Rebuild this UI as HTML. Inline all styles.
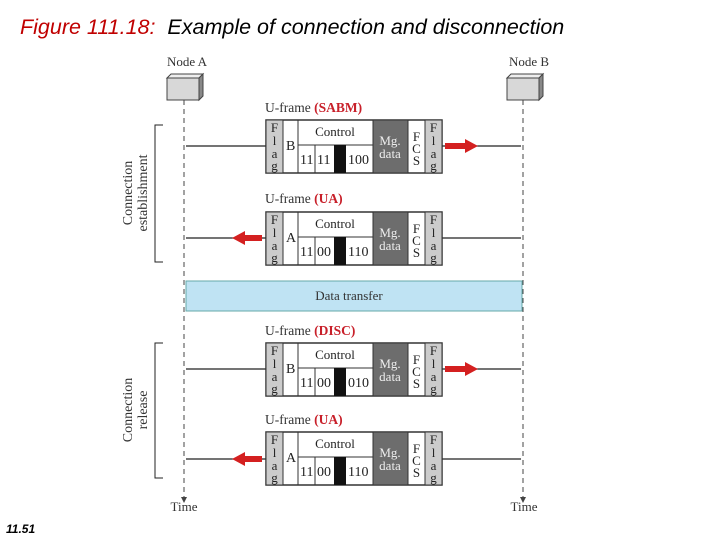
<!DOCTYPE html>
<html><head><style>
body{margin:0;width:720px;height:540px;background:#fff;position:relative;overflow:hidden;font-family:"Liberation Serif",serif;}
.a{position:absolute;}
.t{font-family:"Liberation Sans",sans-serif;font-style:italic;}
</style></head><body>
<div class="a t" style="left:20px;top:15px;font-size:21.5px;color:#000;white-space:nowrap;"><span style="color:#c00000">Figure 111.18:</span>&nbsp; Example of connection and disconnection</div>
<div class="a t" style="left:6px;top:522px;font-size:12px;font-weight:bold;">11.51</div>
<svg class="a" style="left:0;top:0" width="720" height="540" font-family="Liberation Serif, serif">
<defs>
<g id="fr">
  <rect x="266" y="0" width="176" height="53" fill="#fff" stroke="#333" stroke-width="1.5"/>
  <rect x="266" y="0" width="17" height="53" fill="#ccc" stroke="#333"/>
  <rect x="425" y="0" width="17" height="53" fill="#ccc" stroke="#333"/>
  <rect x="373" y="0" width="35" height="53" fill="#6d6d6d" stroke="#333"/>
  <line x1="283" y1="0" x2="283" y2="53" stroke="#333"/>
  <line x1="298" y1="0" x2="298" y2="53" stroke="#333"/>
  <line x1="298" y1="25" x2="373" y2="25" stroke="#333"/>
  <line x1="315" y1="25" x2="315" y2="53" stroke="#333"/>
  <rect x="334" y="25" width="12" height="28" fill="#111"/>
  <g font-size="13" fill="#222" text-anchor="middle">
   <text x="274.5" y="12">F</text><text x="274.5" y="25">l</text><text x="274.5" y="38">a</text><text x="274.5" y="50">g</text>
   <text x="433.5" y="12">F</text><text x="433.5" y="25">l</text><text x="433.5" y="38">a</text><text x="433.5" y="50">g</text>
   <text x="416.5" y="21">F</text><text x="416.5" y="33">C</text><text x="416.5" y="45">S</text>
   <text x="335" y="16" font-size="13">Control</text>
   <text x="390" y="25" font-size="13" fill="#eee">Mg.</text><text x="390" y="38" font-size="13" fill="#eee">data</text>
  </g>
</g>
</defs>
<g stroke="#444" stroke-dasharray="5,4" stroke-width="1"><line x1="184" y1="100" x2="184" y2="498"/><line x1="523" y1="100" x2="523" y2="498"/></g>
<polygon points="181,497 187,497 184,503" fill="#444"/><polygon points="520,497 526,497 523,503" fill="#444"/>
<g font-size="13" fill="#333" text-anchor="middle"><text x="187" y="66">Node A</text><text x="529" y="66">Node B</text><text x="184" y="511">Time</text><text x="524" y="511">Time</text></g>
<g fill="#d8d8d8" stroke="#444"><rect x="167" y="78" width="32" height="22"/><polygon points="167,78 171,74 203,74 199,78" fill="#eee"/><polygon points="199,78 203,74 203,96 199,100" fill="#888"/>
<rect x="507" y="78" width="32" height="22"/><polygon points="507,78 511,74 543,74 539,78" fill="#eee"/><polygon points="539,78 543,74 543,96 539,100" fill="#888"/></g>
<g stroke="#222" fill="none"><polyline points="163,125 155,125 155,262 163,262"/><polyline points="163,343 155,343 155,478 163,478"/></g>
<g font-size="14" fill="#333" text-anchor="middle">
<text transform="translate(132,193) rotate(-90)">Connection</text><text transform="translate(147,193) rotate(-90)">establishment</text>
<text transform="translate(132,410) rotate(-90)">Connection</text><text transform="translate(147,410) rotate(-90)">release</text></g>
<rect x="186" y="281" width="336" height="30" fill="#bfe3f3" stroke="#6aa"/>
<text x="349" y="300" font-size="13" fill="#333" text-anchor="middle">Data transfer</text>
<g stroke="#222" stroke-width="1.3">
<line x1="186" y1="146" x2="266" y2="146"/><line x1="442" y1="146" x2="521" y2="146"/>
<line x1="186" y1="238" x2="266" y2="238"/><line x1="442" y1="238" x2="521" y2="238"/>
<line x1="186" y1="369" x2="266" y2="369"/><line x1="442" y1="369" x2="521" y2="369"/>
<line x1="186" y1="459" x2="266" y2="459"/><line x1="442" y1="459" x2="521" y2="459"/></g>
<g fill="#d42020">
<polygon points="445,143 465,143 465,139 478,146 465,153 465,149 445,149"/>
<polygon points="445,366 465,366 465,362 478,369 465,376 465,372 445,372"/>
<polygon points="262,235 245,235 245,231 232,238 245,245 245,241 262,241"/>
<polygon points="262,456 245,456 245,452 232,459 245,466 245,462 262,462"/></g>
<g font-size="13.5" fill="#333">
<text x="265" y="112">U-frame <tspan fill="#c8202a" font-weight="bold">(SABM)</tspan></text>
<text x="265" y="203">U-frame <tspan fill="#c8202a" font-weight="bold">(UA)</tspan></text>
<text x="265" y="335">U-frame <tspan fill="#c8202a" font-weight="bold">(DISC)</tspan></text>
<text x="265" y="424">U-frame <tspan fill="#c8202a" font-weight="bold">(UA)</tspan></text></g>
<g font-size="14" fill="#222">
<use href="#fr" y="120"/><text x="286" y="150">B</text><text x="300" y="164">11</text><text x="317" y="164">11</text><text x="348" y="164">100</text>
<use href="#fr" y="212"/><text x="286" y="242">A</text><text x="300" y="256">11</text><text x="317" y="256">00</text><text x="348" y="256">110</text>
<use href="#fr" y="343"/><text x="286" y="373">B</text><text x="300" y="387">11</text><text x="317" y="387">00</text><text x="348" y="387">010</text>
<use href="#fr" y="432"/><text x="286" y="462">A</text><text x="300" y="476">11</text><text x="317" y="476">00</text><text x="348" y="476">110</text>
</g>
</svg>
</body></html>
